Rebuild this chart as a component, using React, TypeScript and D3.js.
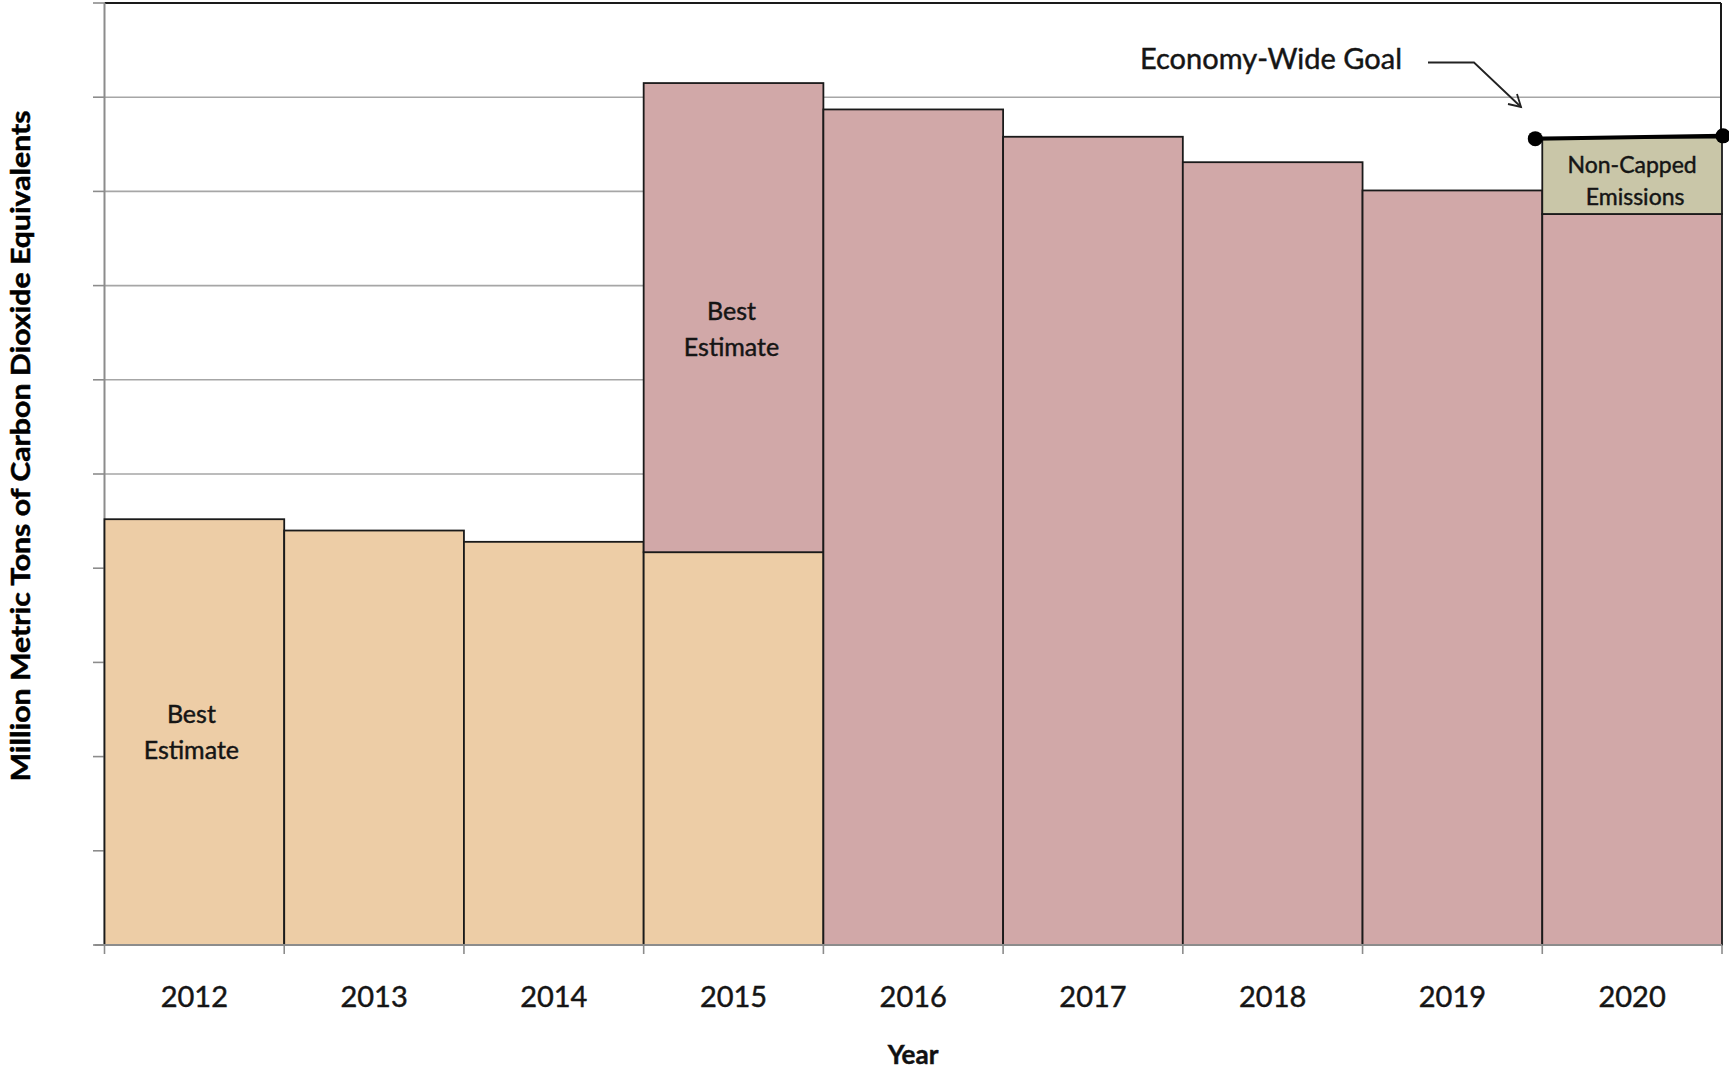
import React from "react";
import * as d3 from "d3";

const years = ["2012", "2013", "2014", "2015", "2016", "2017", "2018", "2019", "2020"];
const bestEstimate = [4.52, 4.40, 4.28, 4.17, 0, 0, 0, 0, 0];
const capped = [0, 0, 0, 4.98, 8.87, 8.58, 8.31, 8.01, 7.76];
const nonCapped = [0, 0, 0, 0, 0, 0, 0, 0, 0.81];
const goalValues = [8.56, 8.59];
const yTicks = [0, 1, 2, 3, 4, 5, 6, 7, 8, 9, 10];

const W = 1729;
const H = 1073;
const FONT = "Lato, 'Open Sans', sans-serif";

const seriesKeys = ["bestEstimate", "capped", "nonCapped"];
const seriesColors: Record<string, string> = {
  bestEstimate: "#EDCDA6",
  capped: "#D1A8A8",
  nonCapped: "#C9C6A8",
};

const heavy = { stroke: "#151515", strokeWidth: 0.45 };

export default function App() {
  const table = years.map((y, i) => ({
    year: y,
    bestEstimate: bestEstimate[i],
    capped: capped[i],
    nonCapped: nonCapped[i],
  }));
  const stack = d3.stack<any>().keys(seriesKeys);
  const stacked = stack(table);

  const x = d3.scaleBand<string>().domain(years).range([104.5, 1722]).padding(0);
  const y = d3.scaleLinear().domain([0, 10]).range([945, 3]);
  const bw = x.bandwidth();
  const left = 104.5;
  const right = 1721;

  const boundaries = [...years.map((yr) => x(yr) as number), x.range()[1]];

  const lastYear = years[years.length - 1];
  const gx0 = (x(lastYear) as number) - 7;
  const gx1 = (x(lastYear) as number) + bw + 1;
  const gy0 = y(goalValues[0]);
  const gy1 = y(goalValues[1]);

  return (
    <div style={{ position: "absolute", left: 0, top: 0, background: "#fff" }}>
      <svg width={W} height={H} style={{ display: "block" }}>
        <rect x={0} y={0} width={W} height={H} fill="#fff" />
        {/* gridlines */}
        {yTicks.slice(1, -1).map((t) => (
          <line key={t} x1={left} x2={right} y1={y(t)} y2={y(t)} stroke="#a6a6a6" strokeWidth={1.6} />
        ))}
        {/* top border */}
        <line x1={left} x2={right} y1={y(10)} y2={y(10)} stroke="#1a1a1a" strokeWidth={2} />
        {/* right border */}
        <line x1={right} x2={right} y1={y(10)} y2={gy1} stroke="#1a1a1a" strokeWidth={2} />
        {/* left axis */}
        <line x1={left} x2={left} y1={y(10)} y2={y(0)} stroke="#8c8c8c" strokeWidth={2} />
        {yTicks.map((t) => (
          <line key={"lt" + t} x1={93} x2={left} y1={y(t)} y2={y(t)} stroke="#8c8c8c" strokeWidth={1.6} />
        ))}
        {/* bars */}
        {stacked.map((s) => (
          <g key={s.key}>
            {s.map((d, i) =>
              d[1] - d[0] > 0 ? (
                <rect
                  key={i}
                  x={x(years[i]) as number}
                  y={y(d[1])}
                  width={bw}
                  height={y(d[0]) - y(d[1])}
                  fill={seriesColors[s.key]}
                  stroke="#1a1a1a"
                  strokeWidth={1.8}
                />
              ) : null
            )}
          </g>
        ))}
        {/* bottom axis */}
        <line x1={left - 10} x2={x.range()[1]} y1={y(0)} y2={y(0)} stroke="#8c8c8c" strokeWidth={2} />
        {boundaries.map((bx, i) => (
          <line key={"bt" + i} x1={bx} x2={bx} y1={y(0)} y2={y(0) + 9} stroke="#8c8c8c" strokeWidth={1.6} />
        ))}
        {years.map((yr) => (
          <text
            key={yr}
            x={(x(yr) as number) + bw / 2}
            y={1007}
            textAnchor="middle"
            fontFamily={FONT}
            fontSize={29}
            fill="#151515"
            {...heavy}
          >
            {yr}
          </text>
        ))}
        {/* goal line */}
        <line x1={gx0} y1={gy0} x2={gx1} y2={gy1} stroke="#000" strokeWidth={4} />
        <circle cx={gx0} cy={gy0} r={7.5} fill="#000" />
        <circle cx={gx1} cy={gy1} r={7.5} fill="#000" />
        {/* annotation arrow */}
        <path d="M1428,62.5 L1474,62.5 L1521,107" fill="none" stroke="#222" strokeWidth={1.8} />
        <path d="M1508,104 L1521,107 L1517,94" fill="none" stroke="#222" strokeWidth={1.8} />
        <text x={1271} y={69} textAnchor="middle" fontFamily={FONT} fontSize={29} fill="#151515" {...heavy}>
          Economy-Wide Goal
        </text>
        {/* in-bar labels */}
        <text textAnchor="middle" fontFamily={FONT} fontSize={25} fill="#151515" {...heavy}>
          <tspan x={(x("2012") as number) + bw / 2 - 3} y={723}>Best</tspan>
          <tspan x={(x("2012") as number) + bw / 2 - 3} y={759}>Estimate</tspan>
        </text>
        <text textAnchor="middle" fontFamily={FONT} fontSize={25} fill="#151515" {...heavy}>
          <tspan x={(x("2015") as number) + bw / 2 - 2} y={320}>Best</tspan>
          <tspan x={(x("2015") as number) + bw / 2 - 2} y={356}>Estimate</tspan>
        </text>
        <text textAnchor="middle" fontFamily={FONT} fontSize={23} fill="#151515" {...heavy}>
          <tspan x={(x(lastYear) as number) + bw / 2} y={173}>Non-Capped</tspan>
          <tspan x={(x(lastYear) as number) + bw / 2 + 3} y={205}>Emissions</tspan>
        </text>
        {/* axis titles */}
        <text
          transform="translate(30,446) rotate(-90)"
          textAnchor="middle"
          fontFamily={FONT}
          fontWeight={700}
          fontSize={27}
          textLength={671}
          lengthAdjust="spacingAndGlyphs"
          fill="#000"
          stroke="#000"
          strokeWidth={0.5}
        >
          Million Metric Tons of Carbon Dioxide Equivalents
        </text>
        <text x={913} y={1064} textAnchor="middle" fontFamily={FONT} fontWeight={700} fontSize={26} fill="#111" {...heavy}>
          Year
        </text>
      </svg>
    </div>
  );
}
